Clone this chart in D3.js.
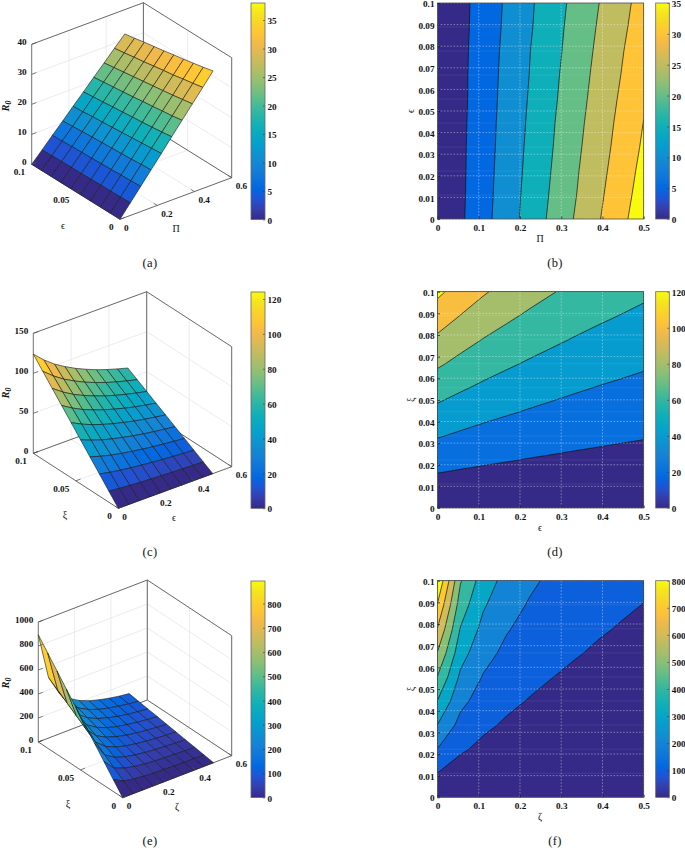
<!DOCTYPE html>
<html>
<head>
<meta charset="utf-8">
<script src="https://cdn.jsdelivr.net/npm/d3@7"></script>
<style>
body { margin: 0; background: #fff; }
text { font-family: "Liberation Serif", serif; fill: #111; }
.num { font-weight: bold; font-size: 9.2px; }
.name { font-size: 10px; }
.cap { font-size: 12.5px; letter-spacing: 0.3px; }
</style>
</head>
<body>
<script>
var zA = [
  [0, 4.2, 8.4, 12.6, 16.8, 21.1, 25.3, 29.5, 33.7, 37.9],
  [0, 4.1, 8.2, 12.4, 16.5, 20.6, 24.7, 28.9, 33.0, 37.1],
  [0, 4.0, 8.1, 12.1, 16.2, 20.2, 24.3, 28.3, 32.4, 36.4],
  [0, 4.0, 7.9, 11.9, 15.9, 19.8, 23.8, 27.8, 31.7, 35.7],
  [0, 3.9, 7.8, 11.7, 15.6, 19.5, 23.4, 27.3, 31.2, 35.1],
  [0, 3.8, 7.6, 11.5, 15.3, 19.1, 22.9, 26.8, 30.6, 34.4],
  [0, 3.8, 7.5, 11.3, 15.0, 18.8, 22.5, 26.3, 30.0, 33.8],
  [0, 3.7, 7.4, 11.1, 14.8, 18.4, 22.1, 25.8, 29.5, 33.2],
  [0, 3.6, 7.2, 10.8, 14.4, 18.1, 21.7, 25.3, 28.9, 32.5],
  [0, 3.5, 7.1, 10.6, 14.2, 17.7, 21.3, 24.8, 28.4, 31.9]
];
var zC = [
  [0, 0, 0, 0, 0, 0, 0, 0, 0, 0],
  [13.8, 12.4, 11.3, 10.4, 9.7, 9.0, 8.4, 7.9, 7.4, 7.0],
  [27.6, 24.9, 22.7, 20.9, 19.3, 18.0, 16.8, 15.8, 14.9, 14.1],
  [41.3, 37.3, 34.0, 31.3, 29.0, 27.0, 25.2, 23.7, 22.3, 21.1],
  [55.1, 49.8, 45.3, 41.8, 38.7, 36.0, 33.6, 31.6, 29.8, 28.1],
  [68.9, 62.2, 56.7, 52.2, 48.3, 45.0, 42.0, 39.4, 37.2, 35.2],
  [82.7, 74.7, 68.0, 62.7, 58.0, 54.0, 50.4, 47.3, 44.7, 42.2],
  [96.4, 87.1, 79.3, 73.1, 67.7, 63.0, 58.8, 55.2, 52.1, 49.2],
  [110.2, 99.6, 90.7, 83.6, 77.3, 72.0, 67.2, 63.1, 59.6, 56.3],
  [124, 112, 102, 94, 87, 81, 75.6, 71, 67, 63.3]
];
var zE = [
  [0, 0, 0, 0, 0, 0, 0, 0, 0, 0],
  [99, 56, 39, 30, 24, 20, 17, 15, 14, 12],
  [198, 113, 78, 60, 48, 40, 35, 31, 27, 25],
  [298, 169, 117, 89, 72, 61, 52, 46, 41, 37],
  [397, 226, 156, 119, 96, 81, 70, 61, 55, 50],
  [496, 282, 194, 149, 121, 101, 87, 77, 68, 62],
  [595, 339, 233, 179, 145, 121, 105, 92, 82, 75],
  [695, 395, 272, 208, 169, 142, 122, 107, 96, 87],
  [794, 452, 311, 238, 193, 162, 140, 123, 109, 99],
  [893, 508, 350, 268, 217, 182, 157, 138, 123, 112]
];

// tick labels
var xTicks3d = [0, 0.2, 0.4, 0.6];
var yTicks3d = [0, 0.05, 0.1];
var zTicksA = [0, 10, 20, 30, 40];
var zTicksC = [0, 50, 100, 150];
var zTicksE = [0, 200, 400, 600, 800, 1000];
var xTicks2d = [0, 0.1, 0.2, 0.3, 0.4, 0.5];
var yTicks2d = [0, 0.01, 0.02, 0.03, 0.04, 0.05, 0.06, 0.07, 0.08, 0.09, 0.1];
var barTicksA = [0, 5, 10, 15, 20, 25, 30, 35];
var barTicksC = [0, 20, 40, 60, 80, 100, 120];
var barTicksE = [0, 100, 200, 300, 400, 500, 600, 700, 800];

// contour levels
var levelsB = [0, 5, 10, 15, 20, 25, 30, 35];
var levelsD = [0, 20, 40, 60, 80, 100, 120];
var levelsF = [0, 100, 200, 300, 400, 500, 600, 700, 800];

// parula colormap
var parulaStops = ["#352a87", "#353dad", "#2053d4", "#0268e1", "#0d75dc", "#1481d6", "#108ed2",
  "#079ccf", "#06a7c6", "#0fafb9", "#25b5a9", "#42ba98", "#65be86", "#87bf77", "#a5be6b",
  "#c0bc60", "#d9ba56", "#f1b94a", "#ffc337", "#fad32a", "#f5e41d", "#f9fb0e"];
var parula = d3.scaleLinear()
  .domain(parulaStops.map(function(d, i) { return i / (parulaStops.length - 1); }))
  .range(parulaStops);

var svg = d3.select("body").append("svg")
  .attr("width", 685)
  .attr("height", 848);

var defs = svg.append("defs");
var grad = defs.append("linearGradient").attr("id", "parula")
  .attr("x1", 0).attr("y1", 1).attr("x2", 0).attr("y2", 0);
parulaStops.forEach(function(c, i) {
  grad.append("stop").attr("offset", i / (parulaStops.length - 1)).attr("stop-color", c);
});

function caption(x, y, s) {
  svg.append("text").attr("class", "cap").attr("x", x).attr("y", y)
    .attr("text-anchor", "middle").text(s);
}

function colorbar(x0, x1, top, bottom, max, ticks) {
  var s = d3.scaleLinear().domain([0, max]).range([bottom, top]);
  var g = svg.append("g");
  g.append("rect").attr("x", x0).attr("y", top)
    .attr("width", x1 - x0).attr("height", bottom - top)
    .attr("fill", "url(#parula)");
  var ax = g.append("g").attr("transform", "translate(" + x1 + ",0)")
    .call(d3.axisRight(s).tickValues(ticks).tickSize(-2).tickPadding(2.5).tickFormat(function(d) { return d; }));
  ax.select(".domain").remove();
  ax.selectAll("line").attr("stroke", "#333").attr("stroke-width", 0.6);
  ax.selectAll("text").attr("class", "num").attr("fill", "#111").attr("font-family", null).attr("font-size", null).attr("dy", "0.4em");
  g.append("rect").attr("x", x0).attr("y", top)
    .attr("width", x1 - x0).attr("height", bottom - top)
    .attr("fill", "none").attr("stroke", "#666").attr("stroke-width", 0.8);
}

// 3D surface, p gives the floor corners of the box in page pixels
function surface(p) {
  var xs = d3.scaleLinear().domain([0, 0.6]).range([0, 1]);
  var ys = d3.scaleLinear().domain([0, 0.1]).range([0, 1]);
  var zs = d3.scaleLinear().domain([0, p.zMax]).range([0, p.h]);
  var xGrid = d3.scaleLinear().domain([0, 9]).range([0, 0.5]);
  var yGrid = d3.scaleLinear().domain([0, 9]).range([0, 0.1]);
  var color = d3.scaleLinear().domain([0, p.cMax]).range([0, 1]);

  function pt(x, y, z) {
    return [
      p.front[0] + xs(x) * (p.right[0] - p.front[0]) + ys(y) * (p.left[0] - p.front[0]),
      p.front[1] + xs(x) * (p.right[1] - p.front[1]) + ys(y) * (p.left[1] - p.front[1]) - zs(z)
    ];
  }
  var g = svg.append("g");
  function seg(a, b, col, w) {
    g.append("line").attr("x1", a[0]).attr("y1", a[1]).attr("x2", b[0]).attr("y2", b[1])
      .attr("stroke", col).attr("stroke-width", w);
  }
  var grid = "#e4e4e4";
  xTicks3d.forEach(function(x) {
    seg(pt(x, 0, 0), pt(x, 0.1, 0), grid, 0.7);
    seg(pt(x, 0.1, 0), pt(x, 0.1, p.zMax), grid, 0.7);
  });
  yTicks3d.forEach(function(y) {
    seg(pt(0, y, 0), pt(0.6, y, 0), grid, 0.7);
    seg(pt(0.6, y, 0), pt(0.6, y, p.zMax), grid, 0.7);
  });
  p.zTicks.forEach(function(z) {
    seg(pt(0, 0.1, z), pt(0.6, 0.1, z), grid, 0.7);
    seg(pt(0.6, 0.1, z), pt(0.6, 0, z), grid, 0.7);
  });

  // box lines
  var box = "#4a4a4a";
  seg(pt(0, 0.1, p.zMax), pt(0.6, 0.1, p.zMax), box, 0.8);
  seg(pt(0.6, 0.1, p.zMax), pt(0.6, 0, p.zMax), box, 0.8);
  seg(pt(0.6, 0.1, 0), pt(0.6, 0.1, p.zMax), box, 0.8);
  seg(pt(0.6, 0, 0), pt(0.6, 0, p.zMax), box, 0.8);
  seg(pt(0, 0.1, 0), pt(0.6, 0.1, 0), box, 0.8);
  seg(pt(0.6, 0, 0), pt(0.6, 0.1, 0), box, 0.8);
  seg(pt(0, 0, 0), pt(0.6, 0, 0), box, 0.8);
  seg(pt(0, 0, 0), pt(0, 0.1, 0), box, 0.8);
  seg(pt(0, 0.1, 0), pt(0, 0.1, p.zMax), "#777", 1);

  // cells painted far to near, flat colour from the low corner
  var line = d3.line();
  for (var j = 8; j >= 0; j--) {
    for (var i = 8; i >= 0; i--) {
      var x0 = xGrid(i), x1 = xGrid(i + 1), y0 = yGrid(j), y1 = yGrid(j + 1);
      var cell = [pt(x0, y0, p.z[j][i]), pt(x1, y0, p.z[j][i + 1]), pt(x1, y1, p.z[j + 1][i + 1]), pt(x0, y1, p.z[j + 1][i])];
      g.append("path").attr("d", line(cell) + "Z")
        .attr("fill", parula(color(p.z[j][i])))
        .attr("stroke", "#1a1a1a").attr("stroke-width", 0.6)
        .attr("stroke-linejoin", "round");
    }
  }

  // ticks and labels
  xTicks3d.forEach(function(x) {
    var a = pt(x, 0, 0), b = pt(x, 0.004, 0);
    seg(a, b, box, 0.7);
    g.append("text").attr("class", "num").attr("x", a[0] + 4).attr("y", a[1] + 11.5).text(x);
  });
  yTicks3d.forEach(function(y) {
    var a = pt(0, y, 0), b = pt(0.025, y, 0);
    seg(a, b, box, 0.7);
    g.append("text").attr("class", "num").attr("x", a[0] - 6.5).attr("y", a[1] + 11)
      .attr("text-anchor", "end").text(y);
  });
  p.zTicks.forEach(function(z) {
    var a = pt(0, 0.1, z), b = pt(0.025, 0.1, z);
    seg(a, b, box, 0.7);
    g.append("text").attr("class", "num").attr("x", a[0] - 5).attr("y", a[1] + 0.5)
      .attr("text-anchor", "end").text(z);
  });

  g.append("text").attr("class", "name").attr("x", p.xLabel[0]).attr("y", p.xLabel[1]).attr("text-anchor", "middle").text(p.xName);
  g.append("text").attr("class", "name").attr("x", p.yLabel[0]).attr("y", p.yLabel[1]).attr("text-anchor", "middle").text(p.yName);
  var r = g.append("text").attr("transform", "translate(" + p.zLabel[0] + "," + p.zLabel[1] + ") rotate(-90)")
    .attr("text-anchor", "middle").attr("font-weight", "bold").attr("font-style", "italic").attr("font-size", "10.5px");
  r.append("tspan").text("R");
  r.append("tspan").attr("dy", 2).attr("font-size", "8px").text("0");
}

// filled contour plot built from the same grid
function contourPlot(p) {
  var x = d3.scaleLinear().domain([0, 0.5]).range([437.5, 643.7]);
  var y = d3.scaleLinear().domain([0, 0.1]).range([p.bottom, p.top]);
  // d3.contours puts grid point n at n + 0.5
  var gx = d3.scaleLinear().domain([0.5, 9.5]).range([437.5, 643.7]);
  var gy = d3.scaleLinear().domain([0.5, 9.5]).range([p.bottom, p.top]);
  var color = d3.scaleLinear().domain([0, p.levels[p.levels.length - 1]]).range([0, 1]);

  var conts = d3.contours().size([10, 10]).thresholds(p.levels)(d3.merge(p.z));
  var path = d3.geoPath(d3.geoTransform({
    point: function(a, b) { this.stream.point(gx(a), gy(b)); }
  }));

  defs.append("clipPath").attr("id", p.id).append("rect")
    .attr("x", 437.5).attr("y", p.top).attr("width", 643.7 - 437.5).attr("height", p.bottom - p.top);

  var g = svg.append("g");
  g.append("g").attr("clip-path", "url(#" + p.id + ")").selectAll("path")
    .data(conts).enter().append("path")
    .attr("d", path)
    .attr("fill", function(d) { return parula(color(d.value)); })
    .attr("stroke", "#111").attr("stroke-width", 0.7);

  // faint seams along the grid rows
  d3.range(1, 9).forEach(function(j) {
    g.append("line").attr("x1", 437.5).attr("x2", 643.7).attr("y1", gy(j + 0.5)).attr("y2", gy(j + 0.5))
      .attr("stroke", "#fff").attr("stroke-opacity", 0.12).attr("stroke-width", 0.7);
  });

  // dotted white grid on top
  xTicks2d.forEach(function(t) {
    g.append("line").attr("x1", x(t)).attr("x2", x(t)).attr("y1", p.top).attr("y2", p.bottom)
      .attr("stroke", "#fff").attr("stroke-opacity", 0.55).attr("stroke-width", 0.7).attr("stroke-dasharray", "1.6,1.6");
  });
  yTicks2d.forEach(function(t) {
    g.append("line").attr("x1", 437.5).attr("x2", 643.7).attr("y1", y(t)).attr("y2", y(t))
      .attr("stroke", "#fff").attr("stroke-opacity", 0.55).attr("stroke-width", 0.7).attr("stroke-dasharray", "1.6,1.6");
  });

  var fmt = function(d) { return d; };
  var bx = g.append("g").attr("transform", "translate(0," + p.bottom + ")")
    .call(d3.axisBottom(x).tickValues(xTicks2d).tickSize(-2.5).tickPadding(5).tickFormat(fmt));
  var ly = g.append("g").attr("transform", "translate(437.5,0)")
    .call(d3.axisLeft(y).tickValues(yTicks2d).tickSize(-2.5).tickPadding(3).tickFormat(fmt));
  [bx, ly].forEach(function(ax) {
    ax.select(".domain").remove();
    ax.selectAll("line").attr("stroke", "#111").attr("stroke-width", 0.7);
    ax.selectAll("text").attr("class", "num").attr("fill", "#111").attr("font-family", null).attr("font-size", null);
  });
  ly.selectAll("text").attr("dy", "0.4em");
  g.append("rect").attr("x", 437.5).attr("y", p.top).attr("width", 643.7 - 437.5).attr("height", p.bottom - p.top)
    .attr("fill", "none").attr("stroke", "#333").attr("stroke-width", 0.7);

  g.append("text").attr("class", "name").attr("x", 540).attr("y", p.bottom + 22.5).attr("text-anchor", "middle").text(p.xName);
  g.append("text").attr("class", "name")
    .attr("transform", "translate(414," + ((p.top + p.bottom) / 2) + ") rotate(-90)")
    .attr("text-anchor", "middle").text(p.yName);
}

surface({
  z: zA, zMax: 40, cMax: 38, h: 120, zTicks: zTicksA,
  front: [120, 219.3], left: [31.7, 164.3], right: [231.7, 177.7],
  xName: "Π", yName: "ϵ", xLabel: [176, 232], yLabel: [63, 229], zLabel: [9, 106]
});
colorbar(251, 265, 3, 219.5, 38, barTicksA);
caption(150, 267, "(a)");

contourPlot({ id: "clipB", z: zA, levels: levelsB, top: 3, bottom: 219, xName: "Π", yName: "ϵ" });
colorbar(655.7, 669.3, 3, 219, 35, barTicksA);
caption(555, 267, "(b)");

surface({
  z: zC, zMax: 150, cMax: 124, h: 120, zTicks: zTicksC,
  front: [118.3, 508.3], left: [33.3, 453.3], right: [231.7, 466.7],
  xName: "ϵ", yName: "ξ", xLabel: [174, 521], yLabel: [65, 518], zLabel: [9, 393]
});
colorbar(251, 265, 292, 508.3, 124, barTicksC);
caption(150, 556, "(c)");

contourPlot({ id: "clipD", z: zC, levels: levelsD, top: 291.7, bottom: 508, xName: "ϵ", yName: "ξ" });
colorbar(655.7, 669.3, 291.7, 508, 120, barTicksC);
caption(555, 556, "(d)");

surface({
  z: zE, zMax: 1000, cMax: 893, h: 120, zTicks: zTicksE,
  front: [122.7, 797.7], left: [38.3, 742], right: [231.7, 755.7],
  xName: "ζ", yName: "ξ", xLabel: [177, 810], yLabel: [68, 807], zLabel: [9, 683]
});
colorbar(251, 265, 581, 797.5, 893, barTicksE);
caption(150, 845, "(e)");

contourPlot({ id: "clipF", z: zE, levels: levelsF, top: 580.7, bottom: 797.3, xName: "ζ", yName: "ξ" });
colorbar(655.7, 669.3, 580.7, 797.3, 800, barTicksE);
caption(555, 845, "(f)");
</script>
</body>
</html>
